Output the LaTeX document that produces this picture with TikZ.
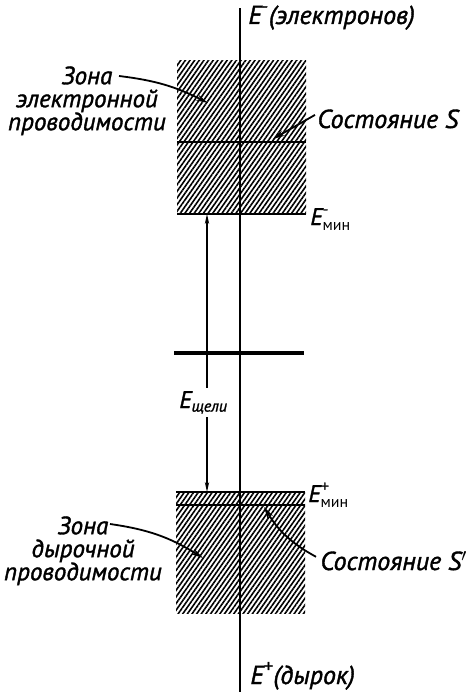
\documentclass[tikz,border=0pt]{standalone}
\usepackage{fontspec}
\setmainfont{PT Sans}[ItalicFeatures={FakeBold=1.4}]
\usepackage{amsmath}
\usetikzlibrary{arrows.meta, patterns.meta}

\tikzset{
    lbl/.style={font=\fontsize{13}{10.5}\selectfont\itshape, inner sep=0pt},
    zlbl/.style={font=\fontsize{12.5}{11.5}\selectfont\itshape, inner sep=0pt, align=center, anchor=north},
    elbl/.style={font=\fontsize{12}{12}\selectfont\itshape, inner sep=0pt},
    zona/.style={pattern={Lines[angle=55, distance=1.9pt, line width=0.8pt]}},
    level/.style={line width=0.8pt},
    pointer/.style={-{Stealth[length=6pt, width=3pt]}, line width=0.9pt},
    gaparrow/.style={-{Stealth[length=5pt, width=2.2pt]}, line width=0.6pt}
}

\begin{document}
\begin{tikzpicture}[x=0.5pt, y=-0.5pt]

\useasboundingbox (0,0) rectangle (471,696);

% === Ось энергии ===
\draw[line width=0.9pt] (240,8) -- (240,692);
\node[lbl, anchor=base west] (etop) at (248,24) {$\text{E}^{\text{-}}$(электронов)};
\node[lbl, anchor=base west] (ebot) at (250,684) {$\text{E}^{\text{+}}$(дырок)};

% === Зона электронной проводимости ===
\fill[zona] (177,60) rectangle (306,214);
\draw[level] (177,142) -- (306,142);
\draw[level] (177,214) -- (306,214);
\node[elbl, anchor=base west] (emin-) at (310,225) {$\text{E}^{\text{-}}_{\textup{мин}}$};

% === Зона дырочной проводимости ===
\fill[zona] (176,492) rectangle (305,613);
\draw[level] (176,492) -- (305,492);
\draw[level] (176,505) -- (305,505);
\node[elbl, anchor=base west] (emin+) at (308,502) {$\text{E}^{\text{+}}_{\textup{мин}}$};

% === Середина щели ===
\draw[line width=1.6pt] (174,353) -- (304,353);

% === Ширина щели ===
\coordinate (gap top) at (207,214);
\coordinate (gap bot) at (207,492);
\node[elbl, fill=white, inner sep=1.5pt, anchor=base west] (egap) at (176,408) {$\text{E}_{\text{щели}}$};
\draw[gaparrow] (egap.north -| gap top) -- (gap top);
\draw[gaparrow] (egap.south -| gap bot) -- (gap bot);

% === Подписи зон ===
\node[zlbl] (zc) at (87,66) {Зона\\электронной\\проводимости};
\node[zlbl] (zv) at (83,516) {Зона\\дырочной\\проводимости};

% === Подписи состояний ===
\node[lbl, anchor=base west] (sS) at (317,128) {Состояние S};
\node[lbl, anchor=base west] (sS') at (320,570) {Состояние S$'$};

% === Стрелки-указатели ===
\coordinate (zc tip) at (208,103);
\coordinate (zv tip) at (203,558);
\coordinate (sS tip) at (273,139);
\coordinate (sS' tip) at (264,507);

\draw[pointer] ([xshift=16pt, yshift=-5pt]zc.north) to[bend left=10] (zc tip);
\draw[pointer] ([xshift=13.5pt, yshift=-4pt]zv.north) to[bend left=12] (zv tip);
\draw[pointer] ([xshift=-1pt, yshift=2pt]sS.west) -- (sS tip);
\draw[pointer] ([xshift=-2pt, yshift=2pt]sS'.west) to[bend left=15] (sS' tip);

\end{tikzpicture}
\end{document}
